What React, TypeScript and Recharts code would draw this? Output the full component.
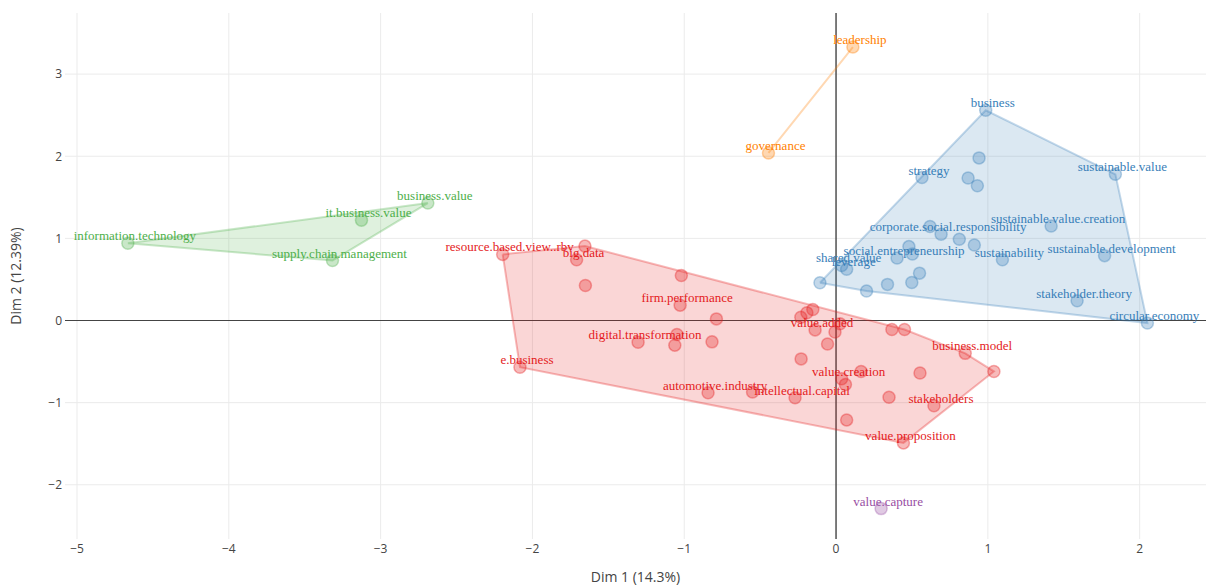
import React from 'react'
import {
  ScatterChart,
  Scatter,
  XAxis,
  YAxis,
  ReferenceLine,
} from 'recharts'

type Pt = { x: number; y: number; label?: string }

// cluster 1 (red)
const redPoints: Pt[] = [
  { x: -2.196, y: 0.805, label: 'resource.based.view..rbv' },
  { x: -1.654, y: 0.906 },
  { x: -1.709, y: 0.74, label: 'big.data' },
  { x: -1.651, y: 0.427 },
  { x: -1.019, y: 0.549 },
  { x: -1.027, y: 0.187, label: 'firm.performance' },
  { x: -0.788, y: 0.02 },
  { x: -1.304, y: -0.264, label: 'digital.transformation' },
  { x: -1.048, y: -0.171 },
  { x: -1.062, y: -0.3 },
  { x: -0.817, y: -0.26 },
  { x: -2.082, y: -0.569, label: 'e.business' },
  { x: -0.843, y: -0.88, label: 'automotive.industry' },
  { x: -0.55, y: -0.87 },
  { x: -0.153, y: 0.134 },
  { x: -0.192, y: 0.094 },
  { x: -0.232, y: 0.04 },
  { x: -0.138, y: -0.114, label: 'value.added' },
  { x: 0.026, y: -0.04 },
  { x: -0.007, y: -0.14 },
  { x: -0.056, y: -0.285 },
  { x: -0.23, y: -0.467 },
  { x: 0.368, y: -0.11 },
  { x: 0.451, y: -0.11 },
  { x: 0.851, y: -0.4, label: 'business.model' },
  { x: 1.04, y: -0.62 },
  { x: 0.165, y: -0.62 },
  { x: 0.037, y: -0.71, label: 'value.creation' },
  { x: 0.062, y: -0.78 },
  { x: 0.553, y: -0.64 },
  { x: -0.27, y: -0.94, label: 'intellectual.capital' },
  { x: 0.349, y: -0.935 },
  { x: 0.645, y: -1.037, label: 'stakeholders' },
  { x: 0.07, y: -1.21 },
  { x: 0.444, y: -1.49, label: 'value.proposition' },
]

// cluster 2 (blue)
const bluePoints: Pt[] = [
  { x: 0.986, y: 2.56, label: 'business' },
  { x: 0.942, y: 1.98 },
  { x: 0.566, y: 1.74, label: 'strategy' },
  { x: 0.87, y: 1.735 },
  { x: 0.931, y: 1.64 },
  { x: 1.84, y: 1.78, label: 'sustainable.value' },
  { x: 1.417, y: 1.15, label: 'sustainable.value.creation' },
  { x: 0.619, y: 1.145 },
  { x: 0.692, y: 1.05, label: 'corporate.social.responsibility' },
  { x: 0.812, y: 0.99 },
  { x: 0.911, y: 0.92 },
  { x: 0.48, y: 0.9 },
  { x: 0.503, y: 0.81 },
  { x: 0.402, y: 0.76, label: 'social.entrepreneurship' },
  { x: 1.096, y: 0.74, label: 'sustainability' },
  { x: 1.769, y: 0.79, label: 'sustainable.development' },
  { x: 0.037, y: 0.67, label: 'shared.value' },
  { x: 0.07, y: 0.625, label: 'leverage' },
  { x: 0.55, y: 0.577 },
  { x: 0.499, y: 0.463 },
  { x: 0.339, y: 0.44 },
  { x: 0.201, y: 0.36 },
  { x: -0.106, y: 0.46 },
  { x: 1.588, y: 0.24, label: 'stakeholder.theory' },
  { x: 2.051, y: -0.03, label: 'circular.economy' },
]

// cluster 3 (green)
const greenPoints: Pt[] = [
  { x: -4.665, y: 0.94, label: 'information.technology' },
  { x: -3.126, y: 1.22, label: 'it.business.value' },
  { x: -2.689, y: 1.43, label: 'business.value' },
  { x: -3.317, y: 0.73, label: 'supply.chain.management' },
]

// cluster 4 (purple)
const purplePoints: Pt[] = [{ x: 0.297, y: -2.29, label: 'value.capture' }]

// cluster 5 (orange)
const orangePoints: Pt[] = [
  { x: 0.111, y: 3.33, label: 'leadership' },
  { x: -0.445, y: 2.04, label: 'governance' },
]

const xTicks = [-5, -4, -3, -2, -1, 0, 1, 2]
const yTicks = [-2, -1, 0, 1, 2, 3]

const clusters = [
  { name: 'red', color: '#E41A1C', points: redPoints },
  { name: 'blue', color: '#377EB8', points: bluePoints },
  { name: 'green', color: '#4DAF4A', points: greenPoints },
  { name: 'purple', color: '#984EA3', points: purplePoints },
  { name: 'orange', color: '#FF7F00', points: orangePoints },
]

// convex hull (monotone chain), closed by repeating first point
function hull(pts: Pt[]): Pt[] {
  if (pts.length < 2) return []
  const s = [...pts].sort((a, b) => a.x - b.x || a.y - b.y)
  const cross = (o: Pt, a: Pt, b: Pt) => (a.x - o.x) * (b.y - o.y) - (a.y - o.y) * (b.x - o.x)
  const lower: Pt[] = []
  for (const p of s) {
    while (lower.length >= 2 && cross(lower[lower.length - 2], lower[lower.length - 1], p) <= 0) lower.pop()
    lower.push(p)
  }
  const upper: Pt[] = []
  for (let i = s.length - 1; i >= 0; i--) {
    const p = s[i]
    while (upper.length >= 2 && cross(upper[upper.length - 2], upper[upper.length - 1], p) <= 0) upper.pop()
    upper.push(p)
  }
  const h = lower.slice(0, -1).concat(upper.slice(0, -1))
  return [...h, h[0]]
}

const minus = (v: number) => (v < 0 ? `\u2212${Math.abs(v)}` : `${v}`)
const tickStyle = { fontFamily: '"Open Sans", sans-serif', fontSize: 12, fill: '#444' }

const makeShape = (color: string) => (props: any) => {
  const { cx, cy, payload } = props
  return (
    <g>
      <circle cx={cx} cy={cy} r={6} fill={color} fillOpacity={0.3} stroke={color} strokeOpacity={0.35} strokeWidth={1.5} />
      {payload.label ? (
        <text
          x={cx + 7}
          y={cy - 3}
          textAnchor="middle"
          fill={color}
          fontFamily='"Liberation Serif", serif'
          fontSize={13}
        >
          {payload.label}
        </text>
      ) : null}
    </g>
  )
}

export default function App() {
  return (
    <div style={{ position: 'absolute', left: 0, top: 0, width: 1206, height: 587, background: '#fff' }}>
      <ScatterChart width={1206} height={587} margin={{ top: 13, right: 0, bottom: 18, left: 15 }}>
        <XAxis
          type="number"
          dataKey="x"
          domain={[-5.079, 2.437]}
          allowDataOverflow
          ticks={xTicks}
          tickFormatter={minus}
          tick={tickStyle}
          tickLine={false}
          axisLine={false}
          tickSize={0}
          tickMargin={5}
          height={30}
          label={{
            content: (p: any) => {
              const vb = p.viewBox
              return (
                <text x={vb.x + vb.width / 2} y={vb.y + 43} textAnchor="middle" fill="#444" fontFamily='"Open Sans", sans-serif' fontSize={14}>
                  Dim 1 (14.3%)
                </text>
              )
            },
          }}
        />
        <YAxis
          type="number"
          dataKey="y"
          domain={[-2.66, 3.744]}
          allowDataOverflow
          ticks={yTicks}
          tickFormatter={minus}
          tick={tickStyle}
          tickLine={false}
          axisLine={false}
          tickSize={0}
          tickMargin={3}
          width={50}
          label={{
            content: (p: any) => {
              const vb = p.viewBox
              const cy = vb.y + vb.height / 2
              return (
                <text x={21} y={cy} textAnchor="middle" transform={`rotate(-90, 21, ${cy})`} fill="#444" fontFamily='"Open Sans", sans-serif' fontSize={14}>
                  Dim 2 (12.39%)
                </text>
              )
            },
          }}
        />
        {xTicks.filter((t) => t !== 0).map((t) => (
          <ReferenceLine key={`gx${t}`} x={t} stroke="#ebebeb" strokeWidth={1} />
        ))}
        {yTicks.filter((t) => t !== 0).map((t) => (
          <ReferenceLine key={`gy${t}`} y={t} stroke="#ebebeb" strokeWidth={1} />
        ))}
        <ReferenceLine x={0} stroke="#444" strokeWidth={1.4} />
        <ReferenceLine y={0} stroke="#444" strokeWidth={1.2} />
        {clusters.map((c) =>
          c.points.length > 1 ? (
            <Scatter
              key={`hull-${c.name}`}
              data={hull(c.points)}
              fill={c.color}
              isAnimationActive={false}
              shape={() => <g />}
              line={{
                stroke: c.color,
                strokeOpacity: 0.3,
                strokeWidth: 2,
                fill: c.color,
                fillOpacity: 0.18,
              }}
            />
          ) : null
        )}
        {clusters.map((c) => (
          <Scatter
            key={`pts-${c.name}`}
            data={c.points}
            fill={c.color}
            isAnimationActive={false}
            shape={makeShape(c.color)}
          />
        ))}
      </ScatterChart>
    </div>
  )
}
